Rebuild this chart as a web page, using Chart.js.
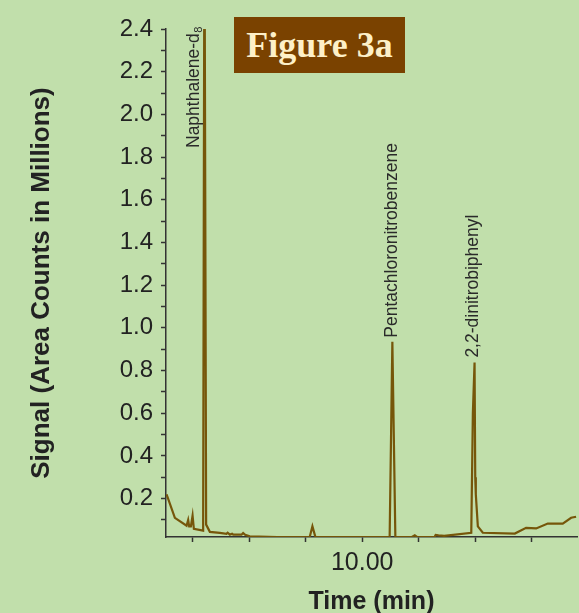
<!DOCTYPE html>
<html>
<head>
<meta charset="utf-8">
<script src="https://cdn.jsdelivr.net/npm/chart.js@4"></script>
<style>
  html, body { margin: 0; padding: 0; background: #c1dfab; }
  #wrap { position: relative; width: 579px; height: 613px; }
  #title {
    position: absolute; left: 234px; top: 17px; width: 171px; height: 56px;
    background: #7a4200; color: #fdf0c8;
    font: bold 36px "Liberation Serif", "DejaVu Serif", serif;
    display: flex; align-items: center; justify-content: center;
  }
</style>
</head>
<body>
<div id="wrap">
  <canvas id="chart" width="579" height="613"></canvas>
  <div id="title">Figure 3a</div>
</div>
<script>
// chromatogram trace
const timeMin = [6.54, 6.687, 6.894, 6.922, 6.94, 6.97, 7.0, 7.023, 7.187, 7.21, 7.24, 7.306,
  7.482, 7.6, 7.62, 7.66, 7.70, 7.72, 7.866, 7.894, 7.93, 8.012, 8.5, 9.072, 9.12, 9.173,
  10.486, 10.534, 10.587, 10.88, 10.93, 10.97, 11.28, 11.30, 11.35, 11.45, 11.93, 11.958,
  11.988, 12.0, 12.01, 12.046, 12.134, 12.7, 12.90, 13.078, 13.283, 13.548, 13.696, 13.784];
const signal = [0.22, 0.11, 0.073, 0.10, 0.07, 0.07, 0.12, 0.058, 0.05, 3.0, 0.078, 0.044,
  0.039, 0.035, 0.04, 0.031, 0.035, 0.031, 0.031, 0.039, 0.03, 0.023, 0.02, 0.02, 0.07, 0.02,
  0.02, 0.935, 0.02, 0.02, 0.028, 0.02, 0.02, 0.03, 0.028, 0.025, 0.04, 0.6,
  0.837, 0.3, 0.22, 0.07, 0.04, 0.036, 0.063, 0.06, 0.083, 0.083, 0.11, 0.115];

const peakNames = ['Naphthalene-d', 'Pentachloronitrobenzene', '2,2-dinitrobiphenyl'];
const peakSub = ['8', '', ''];
const peakTimes = [7.21, 10.534, 11.988];
const peakHeights = [2.4, 0.935, 0.837];

const xTicks = [7, 8, 9, 10, 11, 12, 13];
const yTicks = [0.1, 0.2, 0.3, 0.4, 0.5, 0.6, 0.7, 0.8, 0.9, 1.0, 1.1, 1.2,
  1.3, 1.4, 1.5, 1.6, 1.7, 1.8, 1.9, 2.0, 2.1, 2.2, 2.3, 2.4];

const points = timeMin.map((t, i) => ({ x: t, y: signal[i] }));

// label placement: offset from the peak line, and gap above the peak (or a fixed bottom)
const labelPos = [
  { dx: -10, bottom: 148 },
  { dx: 0, gap: 4 },
  { dx: -1, gap: 5 }
];

const labelFont = '17.5px "Liberation Sans", Arial, sans-serif';

const peakLabels = {
  id: 'peakLabels',
  afterDatasetsDraw(chart) {
    const { ctx, scales: { x, y } } = chart;
    ctx.save();
    ctx.fillStyle = '#2a2a2a';
    ctx.textBaseline = 'middle';
    ctx.textAlign = 'left';
    peakNames.forEach((name, i) => {
      const p = labelPos[i];
      const px = x.getPixelForValue(peakTimes[i]) + p.dx;
      const py = p.bottom !== undefined ? p.bottom : y.getPixelForValue(peakHeights[i]) - p.gap;
      ctx.save();
      ctx.translate(px, py);
      ctx.rotate(-Math.PI / 2);
      ctx.font = labelFont;
      ctx.fillText(name, 0, 0);
      if (peakSub[i]) {
        const w = ctx.measureText(name).width;
        ctx.font = '11px "Liberation Sans", Arial, sans-serif';
        ctx.fillText(peakSub[i], w + 0.5, 5);
      }
      ctx.restore();
    });
    ctx.restore();
  }
};

const ctx = document.getElementById('chart').getContext('2d');
new Chart(ctx, {
  type: 'line',
  data: {
    datasets: [{
      data: points,
      borderColor: '#76560a',
      borderWidth: 2.2,
      pointRadius: 0,
      tension: 0,
      fill: false
    }]
  },
  options: {
    animation: false,
    responsive: false,
    layout: { padding: { top: 29, right: 2, left: 0, bottom: 0 } },
    plugins: { legend: { display: false }, tooltip: { enabled: false } },
    scales: {
      x: {
        type: 'linear',
        min: 6.53,
        max: 13.8,
        afterBuildTicks: (s) => { s.ticks = xTicks.map(v => ({ value: v })); },
        afterFit: (s) => { s.height = 76; },
        ticks: {
          color: '#222',
          font: { size: 25, family: '"Liberation Sans", Arial, sans-serif' },
          padding: 6,
          maxRotation: 0,
          autoSkip: false,
          callback: (v) => (v === 10 ? '10.00' : '')
        },
        grid: { drawOnChartArea: false, tickLength: 5, color: '#333', tickWidth: 1.5 },
        border: { color: '#333', width: 1.5 },
        title: {
          display: true,
          text: 'Time (min)',
          color: '#222',
          font: { size: 25, weight: 'bold', lineHeight: 1.0, family: '"Liberation Sans", Arial, sans-serif' },
          padding: { top: 0, bottom: -2 }
        }
      },
      y: {
        min: 0.02,
        max: 2.4,
        afterBuildTicks: (s) => { s.ticks = yTicks.map(v => ({ value: v })); },
        afterFit: (s) => { s.width = 166; },
        ticks: {
          color: '#222',
          font: { size: 24, family: '"Liberation Sans", Arial, sans-serif' },
          padding: 8,
          autoSkip: false,
          callback: (v) => (Math.round(v * 10) % 2 === 0 ? v.toFixed(1) : '')
        },
        grid: { drawOnChartArea: false, tickLength: 5, color: '#333', tickWidth: 1.5 },
        border: { color: '#333', width: 1.5 },
        title: {
          display: true,
          text: 'Signal (Area Counts in Millions)',
          color: '#222',
          font: { size: 26, weight: 'bold', family: '"Liberation Sans", Arial, sans-serif' },
          padding: { top: 26, bottom: 0 }
        }
      }
    }
  },
  plugins: [peakLabels]
});
</script>
</body>
</html>
